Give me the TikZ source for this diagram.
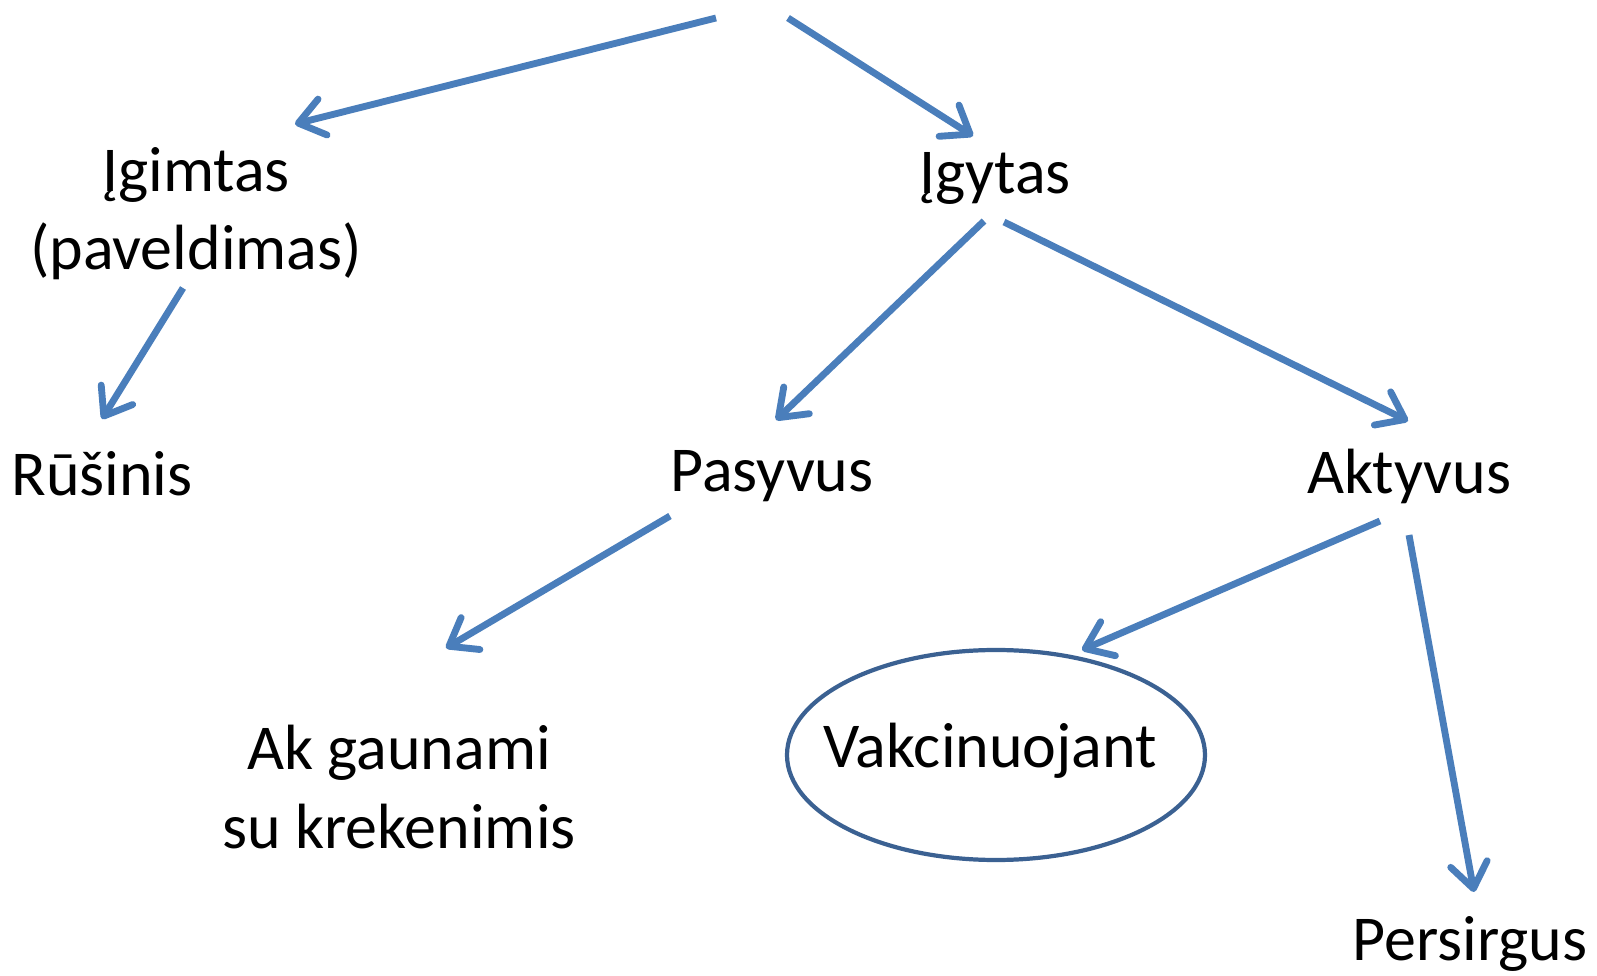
\documentclass[tikz,border=0pt]{standalone}
\usepackage{fontspec}
\setmainfont{Carlito}
\usetikzlibrary{calc,arrows.meta,shapes.geometric}
\definecolor{arrowblue}{HTML}{4A7EBB}
\definecolor{ringblue}{HTML}{3B6192}

\begin{document}
\begin{tikzpicture}[
  x=0.02cm,y=-0.02cm,
  every node/.style={font=\fontsize{36.4}{44.5}\selectfont,inner sep=0pt},
  kind/.style={align=center,text=black},
  link/.style={draw=arrowblue,line width=3.9pt,-{Straight Barb[length=0.5cm,width=0.74cm,round]}},
  ring/.style={draw=ringblue,line width=2.4pt}
  ]
  \useasboundingbox (0,0) rectangle (1597,976);

%level 1
  \coordinate (top_l) at(716,18);
  \coordinate (top_r) at(788,18);
  \node (igimtas) [kind] at(196,214) {Įgimtas\\(paveldimas)};
  \node (igytas) [kind] at(995,178) {Įgytas};

%level 2
  \node (rusinis) [kind] at(102,474) {Rūšinis};
  \node (pasyvus) [kind] at(772,476) {Pasyvus};
  \node (aktyvus) [kind] at(1409,476) {Aktyvus};

%level 3
  \node (akgaunami) [kind] at(399,787) {Ak gaunami\\su krekenimis};
  \node (vakcinuojant) [kind] at(990,751) {Vakcinuojant};
  \draw [ring] ($(vakcinuojant)+(6,4)$) ellipse [x radius=209, y radius=105];
  \node (persirgus) [kind] at(1470,944) {Persirgus};

  \draw [link] (top_l) -- ($(igimtas)+(99,-90)$);
  \draw [link] (top_r) -- ($(igytas)+(-22,-42)$);
  \draw [link] ($(igimtas)+(-13,74)$) -- ($(rusinis)+(0,-55)$);
  \draw [link] ($(igytas)+(-11,43)$) -- ($(pasyvus)+(4,-56)$);
  \draw [link] ($(igytas)+(9,44)$) -- ($(aktyvus)+(-1,-55)$);
  \draw [link] ($(pasyvus)+(-102,40)$) -- ($(akgaunami)+(47,-139)$);
  \draw [link] ($(aktyvus)+(-29,45)$) -- ($(vakcinuojant)+(92,-101)$);
  \draw [link] ($(aktyvus)+(0,59)$) -- ($(persirgus)+(4,-52)$);

\end{tikzpicture}
\end{document}
